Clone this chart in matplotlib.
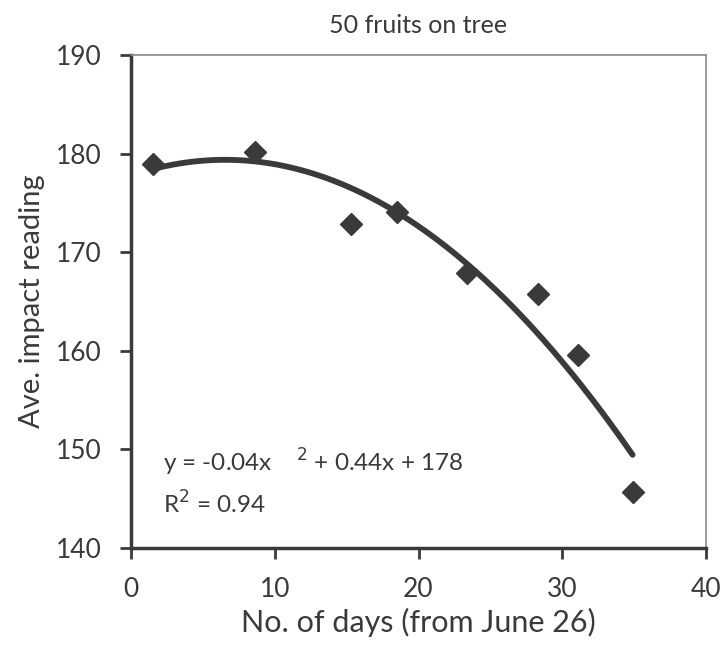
import matplotlib.pyplot as plt
import numpy as np

# impact readings for fruit left on the tree
days = [1.5, 8.6, 15.3, 18.5, 23.4, 28.3, 31.1, 34.9]
impact = [179.0, 180.2, 172.9, 174.1, 167.9, 165.8, 159.6, 145.7]
xticks = [0, 10, 20, 30, 40]
yticks = [140, 150, 160, 170, 180, 190]

plt.rcParams['font.family'] = ['Lato', 'DejaVu Sans']
ink = '#3a3a3a'

fig = plt.figure(figsize=(7.21, 6.5), dpi=100)
ax = fig.add_axes([0.182, 0.157, 0.797, 0.758])

# second order trend line
z = np.polyfit(days, impact, 2)
p = np.poly1d(z)
xs = np.linspace(min(days), max(days), 200)
ax.plot(xs, p(xs), color=ink, lw=4.2, solid_capstyle='round', zorder=2)
ax.plot(days, impact, 'D', color=ink, markersize=11, zorder=3)

ax.set_xlim(0, 40)
ax.set_ylim(140, 190)
ax.set_xticks(xticks)
ax.set_yticks(yticks)
ax.tick_params(direction='out', length=8, width=2, color=ink,
               labelsize=19, labelcolor=ink, pad=13)

for s in ['left', 'bottom']:
    ax.spines[s].set_linewidth(2.5)
    ax.spines[s].set_color(ink)
for s in ['top', 'right']:
    ax.spines[s].set_linewidth(1.2)
    ax.spines[s].set_color('#8a8a8a')

ax.set_title('50 fruits on tree', fontsize=18, color=ink, pad=16)
ax.set_xlabel('No. of days (from June 26)', fontsize=22, color=ink, labelpad=4)
ax.set_ylabel('Ave. impact reading', fontsize=21, color=ink, labelpad=8)

ax.text(0.055, 0.155, 'y = -0.04x    $^{2}$ + 0.44x + 178', transform=ax.transAxes,
        fontsize=17.5, color=ink)
ax.text(0.055, 0.07, 'R$^{2}$ = 0.94', transform=ax.transAxes,
        fontsize=17.5, color=ink)

fig.savefig('out.png', dpi=100)
